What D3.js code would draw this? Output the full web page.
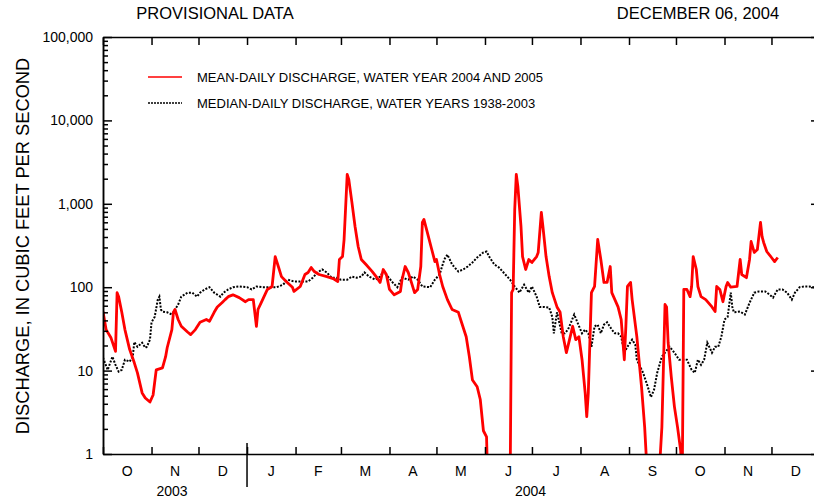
<!DOCTYPE html>
<html>
<head>
<meta charset="utf-8">
<script src="https://cdn.jsdelivr.net/npm/d3@7"></script>
<style>
  body { margin: 0; background: #fff; }
  text { font-family: "Liberation Sans", Arial, Helvetica, sans-serif; fill: #000; }
</style>
</head>
<body>
<div id="chart"></div>
<script>
// Mean-daily discharge, water year 2004 and 2005 (cfs). Values below 1 fall off the chart.
let meanDaily = [
  ["2003-10-01",51],["2003-10-03",31],["2003-10-06",25],["2003-10-09",17],["2003-10-10",86],["2003-10-11",77],
  ["2003-10-13",50],["2003-10-15",31],["2003-10-18",18],["2003-10-21",12.4],["2003-10-23",9.4],["2003-10-26",5.4],
  ["2003-10-28",4.7],["2003-10-31",4.2],["2003-11-02",5.1],["2003-11-04",10.2],["2003-11-08",10.8],["2003-11-10",14.7],
  ["2003-11-11",18.8],["2003-11-14",31],["2003-11-15",50],["2003-11-16",54],["2003-11-18",41],["2003-11-20",34],
  ["2003-11-24",29],["2003-11-26",27],["2003-11-29",31],["2003-12-02",38],["2003-12-06",41],["2003-12-08",39],
  ["2003-12-11",50],["2003-12-13",58],["2003-12-16",65],["2003-12-18",71],["2003-12-20",77],["2003-12-23",81],
  ["2003-12-27",75],["2003-12-31",67],["2004-01-02",71],["2004-01-05",71],["2004-01-07",34],["2004-01-08",54],
  ["2004-01-10",65],["2004-01-14",94],["2004-01-17",102],["2004-01-19",233],["2004-01-21",177],["2004-01-23",134],
  ["2004-01-26",117],["2004-01-30",100],["2004-01-31",89],["2004-02-04",102],["2004-02-07",142],["2004-02-09",150],
  ["2004-02-11",172],["2004-02-13",154],["2004-02-16",142],["2004-02-21",134],["2004-02-25",127],["2004-02-28",117],
  ["2004-02-29",215],["2004-03-02",233],["2004-03-03",373],["2004-03-05",2250],["2004-03-06",1960],["2004-03-08",1040],
  ["2004-03-10",535],["2004-03-12",308],["2004-03-14",215],["2004-03-17",187],["2004-03-21",154],["2004-03-24",130],
  ["2004-03-26",114],["2004-03-28",163],["2004-03-30",142],["2004-04-01",94],["2004-04-04",81],["2004-04-08",89],
  ["2004-04-09",123],["2004-04-11",177],["2004-04-13",150],["2004-04-15",114],["2004-04-17",86],["2004-04-19",94],
  ["2004-04-21",177],["2004-04-22",598],["2004-04-23",649],["2004-04-25",466],["2004-04-28",283],["2004-04-30",203],
  ["2004-05-01",215],["2004-05-03",142],["2004-05-05",102],["2004-05-08",71],["2004-05-11",54],["2004-05-15",50],
  ["2004-05-17",38],["2004-05-20",25.5],["2004-05-22",14.7],["2004-05-24",7.7],["2004-05-27",6.4],["2004-05-29",4.5],
  ["2004-05-31",1.9],["2004-06-02",1.6],["2004-06-03",0.3],["2004-06-17",0.3],["2004-06-18",86],["2004-06-19",94],
  ["2004-06-20",857],["2004-06-21",2250],["2004-06-22",1620],["2004-06-24",535],["2004-06-25",233],["2004-06-27",163],
  ["2004-06-29",215],["2004-07-01",198],["2004-07-04",233],["2004-07-05",261],["2004-07-07",788],["2004-07-08",535],
  ["2004-07-10",233],["2004-07-12",134],["2004-07-14",86],["2004-07-17",58],["2004-07-19",50],["2004-07-21",25.5],
  ["2004-07-23",16.4],["2004-07-25",23.5],["2004-07-27",34],["2004-07-29",23.5],["2004-07-31",25.5],["2004-08-02",13.5],
  ["2004-08-04",5.4],["2004-08-05",2.8],["2004-08-06",5.4],["2004-08-08",86],["2004-08-10",102],["2004-08-12",373],
  ["2004-08-14",215],["2004-08-16",114],["2004-08-18",114],["2004-08-20",177],["2004-08-21",86],["2004-08-25",58],
  ["2004-08-27",41],["2004-08-29",13.5],["2004-08-30",34],["2004-08-31",102],["2004-09-02",114],["2004-09-03",71],
  ["2004-09-06",25.5],["2004-09-09",6.4],["2004-09-11",2.1],["2004-09-12",0.95],["2004-09-13",0.3],["2004-09-20",0.3],
  ["2004-09-21",1.0],["2004-09-22",2.1],["2004-09-24",62],["2004-09-25",58],["2004-09-26",21.6],["2004-09-28",8.4],
  ["2004-09-30",3.7],["2004-10-02",2.1],["2004-10-04",1.1],["2004-10-05",0.5],["2004-10-06",94],["2004-10-08",94],
  ["2004-10-10",77],["2004-10-11",102],["2004-10-12",233],["2004-10-14",163],["2004-10-15",102],["2004-10-17",77],
  ["2004-10-20",71],["2004-10-24",58],["2004-10-26",51],["2004-10-27",102],["2004-10-29",94],["2004-10-31",67],
  ["2004-11-02",102],["2004-11-03",114],["2004-11-05",100],["2004-11-09",102],["2004-11-11",215],["2004-11-12",142],
  ["2004-11-15",130],["2004-11-17",215],["2004-11-18",353],["2004-11-20",261],["2004-11-22",283],["2004-11-24",598],
  ["2004-11-25",405],["2004-11-26",344],["2004-11-28",268],["2004-12-01",227],["2004-12-03",203],["2004-12-05",227]
];

// Median-daily discharge, water years 1938-2003 (cfs)
let medianDaily = [
  ["2003-10-01",14.3],["2003-10-04",10.2],["2003-10-07",14.7],["2003-10-09",11.7],["2003-10-11",9.7],["2003-10-13",10.2],
  ["2003-10-15",13.5],["2003-10-18",12.8],["2003-10-20",14.7],["2003-10-21",22],["2003-10-23",19.3],["2003-10-26",21.6],
  ["2003-10-28",18.8],["2003-10-29",19.3],["2003-10-31",23.5],["2003-11-01",38],["2003-11-03",44],["2003-11-05",71],
  ["2003-11-06",77],["2003-11-07",54],["2003-11-08",51],["2003-11-11",50],["2003-11-14",47],["2003-11-16",54],
  ["2003-11-18",62],["2003-11-20",77],["2003-11-24",86],["2003-11-27",86],["2003-11-30",77],["2003-12-02",86],
  ["2003-12-05",94],["2003-12-08",100],["2003-12-11",86],["2003-12-15",77],["2003-12-17",86],["2003-12-20",94],
  ["2003-12-23",100],["2003-12-27",102],["2004-01-01",100],["2004-01-04",94],["2004-01-07",102],["2004-01-11",100],
  ["2004-01-16",100],["2004-01-20",100],["2004-01-24",107],["2004-01-27",123],["2004-01-31",117],["2004-02-05",117],
  ["2004-02-09",117],["2004-02-12",130],["2004-02-15",150],["2004-02-18",163],["2004-02-21",150],["2004-02-24",130],
  ["2004-02-27",130],["2004-03-01",123],["2004-03-05",123],["2004-03-08",134],["2004-03-11",130],["2004-03-14",134],
  ["2004-03-16",150],["2004-03-19",134],["2004-03-23",123],["2004-03-26",134],["2004-03-28",154],["2004-03-31",134],
  ["2004-04-03",114],["2004-04-06",100],["2004-04-09",130],["2004-04-13",123],["2004-04-16",134],["2004-04-19",123],
  ["2004-04-22",102],["2004-04-27",100],["2004-04-30",123],["2004-05-03",142],["2004-05-06",215],["2004-05-08",246],
  ["2004-05-11",187],["2004-05-15",154],["2004-05-18",163],["2004-05-21",177],["2004-05-24",198],["2004-05-27",227],
  ["2004-05-31",261],["2004-06-02",268],["2004-06-04",227],["2004-06-07",187],["2004-06-10",172],["2004-06-14",142],
  ["2004-06-17",123],["2004-06-20",102],["2004-06-23",86],["2004-06-26",107],["2004-06-29",86],["2004-07-01",102],
  ["2004-07-04",77],["2004-07-06",58],["2004-07-09",58],["2004-07-12",57],["2004-07-14",44],["2004-07-15",28],
  ["2004-07-17",50],["2004-07-20",28],["2004-07-22",28],["2004-07-24",31],["2004-07-26",38],["2004-07-28",47],
  ["2004-07-30",38],["2004-08-02",28],["2004-08-04",31],["2004-08-06",28],["2004-08-08",19.3],["2004-08-10",34],
  ["2004-08-12",35.5],["2004-08-14",28],["2004-08-16",35.5],["2004-08-18",38],["2004-08-21",31],["2004-08-23",28],
  ["2004-08-25",28],["2004-08-27",25.5],["2004-08-29",16.4],["2004-08-31",19.3],["2004-09-03",23.5],["2004-09-05",20.4],
  ["2004-09-06",13.5],["2004-09-10",9.4],["2004-09-13",6.4],["2004-09-15",4.8],["2004-09-17",5.9],["2004-09-19",9.4],
  ["2004-09-22",14.7],["2004-09-24",16.4],["2004-09-27",19.3],["2004-09-30",16.4],["2004-10-03",13.5],["2004-10-08",13.5],
  ["2004-10-11",10.2],["2004-10-13",9.4],["2004-10-15",13.5],["2004-10-17",11.7],["2004-10-19",13.5],["2004-10-21",21.6],
  ["2004-10-24",16.4],["2004-10-26",19.3],["2004-10-28",19.3],["2004-10-30",25.5],["2004-11-01",41],["2004-11-03",44],
  ["2004-11-05",86],["2004-11-06",58],["2004-11-07",50],["2004-11-11",51],["2004-11-14",47],["2004-11-17",65],
  ["2004-11-20",86],["2004-11-23",89],["2004-11-27",89],["2004-11-30",81],["2004-12-02",75],["2004-12-05",94],
  ["2004-12-08",94],["2004-12-11",86],["2004-12-14",71],["2004-12-16",86],["2004-12-19",100],["2004-12-22",102],
  ["2004-12-25",102],["2004-12-28",100],["2004-12-31",100]
];

// Axis labels
let monthLabels = ['O', 'N', 'D', 'J', 'F', 'M', 'A', 'M', 'J', 'J', 'A', 'S', 'O', 'N', 'D'];
let yearLabels = [['2003', '2003-10-01', '2004-01-01'], ['2004', '2004-01-01', '2005-01-01']];
let majorTicks = [1, 10, 100, 1000, 10000, 100000];
let titleLeft = 'PROVISIONAL DATA';
let titleRight = 'DECEMBER 06, 2004';
let yTitle = 'DISCHARGE, IN CUBIC FEET PER SECOND';
let meanLabel = 'MEAN-DAILY DISCHARGE, WATER YEAR 2004 AND 2005';
let medianLabel = 'MEDIAN-DAILY DISCHARGE, WATER YEARS 1938-2003';

let svgWidth = 814;
let svgHeight = 502;
let plot = { left: 103, right: 820, top: 37, bottom: 454 };

let parseDate = d3.timeParse('%Y-%m-%d');

let svg = d3.select('#chart')
    .append('svg')
    .attr('width', svgWidth)
    .attr('height', svgHeight)
    .style('display', 'block');

svg.append('rect')
    .attr('width', svgWidth)
    .attr('height', svgHeight)
    .attr('fill', '#fff');

// Scales
let xScale = d3.scaleTime()
    .domain([parseDate('2003-10-01'), parseDate('2005-01-01')])
    .range([plot.left, plot.right]);

let yScale = d3.scaleLog()
    .domain([1, 100000])
    .range([plot.bottom, plot.top]);

// minor ticks 2..9 in each decade
let minorTicks = [];
majorTicks.slice(0, -1).forEach(m => {
    for (let k = 2; k <= 9; k++) minorTicks.push(m * k);
});

// Clip for the lines
svg.append('clipPath')
    .attr('id', 'plotClip')
    .append('rect')
    .attr('x', plot.left)
    .attr('y', plot.top)
    .attr('width', plot.right - plot.left)
    .attr('height', plot.bottom - plot.top);

let line = d3.line()
    .x(d => xScale(parseDate(d[0])))
    .y(d => yScale(Math.max(d[1], 0.01)));

let lines = svg.append('g').attr('clip-path', 'url(#plotClip)');

lines.append('path')
    .datum(medianDaily)
    .attr('d', line)
    .attr('fill', 'none')
    .attr('stroke', '#000')
    .attr('stroke-width', 2)
    .attr('stroke-dasharray', '2,1.5');

lines.append('path')
    .datum(meanDaily)
    .attr('d', line)
    .attr('fill', 'none')
    .attr('stroke', '#ff0000')
    .attr('stroke-width', 2.8)
    .attr('stroke-linejoin', 'round');

// Axes
function styleAxis(g) {
    g.selectAll('path, line').attr('stroke', '#000').attr('stroke-width', 1.5);
    g.selectAll('text').attr('font-size', 14).attr('font-family', '"Liberation Sans", Arial, sans-serif').attr('fill', '#000');
}

let leftAxis = svg.append('g')
    .attr('transform', `translate(${plot.left},0)`)
    .call(d3.axisLeft(yScale).tickValues(majorTicks).tickSize(-9).tickSizeOuter(0)
        .tickPadding(10).tickFormat(d3.format(',')))
    .call(styleAxis);

svg.append('g')
    .attr('transform', `translate(${plot.left},0)`)
    .call(d3.axisLeft(yScale).tickValues(minorTicks).tickSize(-5).tickSizeOuter(0).tickFormat(''))
    .call(styleAxis);

svg.append('g')
    .attr('transform', `translate(${plot.right},0)`)
    .call(d3.axisRight(yScale).tickValues(majorTicks).tickSize(-9).tickSizeOuter(0).tickFormat(''))
    .call(styleAxis);

svg.append('g')
    .attr('transform', `translate(${plot.right},0)`)
    .call(d3.axisRight(yScale).tickValues(minorTicks).tickSize(-5).tickSizeOuter(0).tickFormat(''))
    .call(styleAxis);

let monthTicks = xScale.ticks(d3.timeMonth.every(1));

svg.append('g')
    .attr('transform', `translate(0,${plot.bottom})`)
    .call(d3.axisBottom(xScale).tickValues(monthTicks).tickSize(-7).tickSizeOuter(0).tickFormat(''))
    .call(styleAxis);

svg.append('g')
    .attr('transform', `translate(0,${plot.top})`)
    .call(d3.axisTop(xScale).tickValues(monthTicks).tickSize(-8).tickSizeOuter(0).tickFormat(''))
    .call(styleAxis);

// Month letters centred in each month
svg.append('g')
    .selectAll('text')
    .data(monthTicks.slice(0, monthLabels.length))
    .enter()
    .append('text')
    .attr('x', d => (xScale(d) + xScale(d3.timeMonth.offset(d, 1))) / 2)
    .attr('y', 476)
    .attr('text-anchor', 'middle')
    .attr('font-size', 14)
    .text((d, i) => monthLabels[i]);

// Year divider and year labels
svg.append('line')
    .attr('x1', xScale(parseDate('2004-01-01')))
    .attr('x2', xScale(parseDate('2004-01-01')))
    .attr('y1', plot.bottom - 11)
    .attr('y2', plot.bottom + 33)
    .attr('stroke', '#000')
    .attr('stroke-width', 1.5);

svg.append('g')
    .selectAll('text')
    .data(yearLabels)
    .enter()
    .append('text')
    .attr('x', d => (xScale(parseDate(d[1])) + xScale(parseDate(d[2]))) / 2 - 3)
    .attr('y', 496)
    .attr('text-anchor', 'middle')
    .attr('font-size', 14)
    .text(d => d[0]);

// Titles
svg.append('text')
    .attr('x', 215)
    .attr('y', 19)
    .attr('text-anchor', 'middle')
    .attr('font-size', 16.5)
    .text(titleLeft);

svg.append('text')
    .attr('x', 698)
    .attr('y', 19)
    .attr('text-anchor', 'middle')
    .attr('font-size', 16.5)
    .text(titleRight);

svg.append('text')
    .attr('transform', 'rotate(-90)')
    .attr('x', -246)
    .attr('y', 29)
    .attr('text-anchor', 'middle')
    .attr('font-size', 18.3)
    .text(yTitle);

// Legend
let legend = svg.append('g');

legend.append('line')
    .attr('x1', 148).attr('x2', 182)
    .attr('y1', 77).attr('y2', 77)
    .attr('stroke', '#ff0000')
    .attr('stroke-width', 1.5);

legend.append('text')
    .attr('x', 197)
    .attr('y', 82)
    .attr('font-size', 13)
    .text(meanLabel);

legend.append('line')
    .attr('x1', 148).attr('x2', 182)
    .attr('y1', 103).attr('y2', 103)
    .attr('stroke', '#000')
    .attr('stroke-width', 1.5)
    .attr('stroke-dasharray', '2,1');

legend.append('text')
    .attr('x', 197)
    .attr('y', 108)
    .attr('font-size', 13)
    .text(medianLabel);
</script>
</body>
</html>
